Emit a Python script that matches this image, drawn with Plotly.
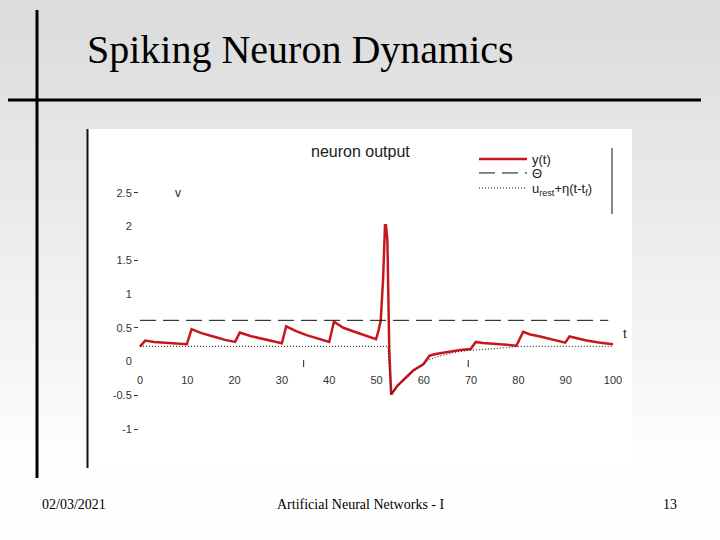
import plotly.graph_objects as go

# ---- data ----
t_vals = [0, 1.1, 3, 5, 7.5, 9.9, 10.9, 13, 15.5, 18, 20.1, 21.1, 23.5, 26.1, 28, 30,
          30.9, 33, 35.2, 37.5, 40, 41, 43, 45.8, 48, 49.9, 50.4, 50.9, 51.4, 51.8, 52.0,
          52.3, 52.7, 53.1, 54.4, 56, 57.8, 59.9, 61.2, 62.5, 64.1, 66, 67.7, 69.9, 71.0,
          72.5, 74.7, 77, 79.6, 81.0, 82.5, 84.6, 87, 89.9, 90.8, 92.5, 94.4, 97, 100]
y_vals = [0.22, 0.31, 0.29, 0.28, 0.265, 0.255, 0.48, 0.42, 0.37, 0.32, 0.29, 0.43, 0.375,
          0.33, 0.30, 0.27, 0.52, 0.45, 0.39, 0.34, 0.29, 0.59, 0.50, 0.43, 0.37, 0.33, 0.45,
          0.61, 1.23, 2.02, 2.02, 1.8, 0.17, -0.49, -0.36, -0.25, -0.13, -0.04, 0.086, 0.11,
          0.13, 0.15, 0.17, 0.185, 0.29, 0.275, 0.26, 0.25, 0.235, 0.44, 0.40, 0.37, 0.33,
          0.28, 0.37, 0.34, 0.31, 0.28, 0.255]

theta_t = [0, 99]
theta_y = [0.61, 0.61]

eta_t = [0, 52.4, 52.6, 53.1, 54.4, 56, 58, 60, 61, 62.7, 64.8, 66.9, 69, 71.2, 73.3,
         75.5, 77.5, 79.6, 81.5, 100]
eta_y = [0.225, 0.225, 0.0, -0.49, -0.37, -0.26, -0.14, -0.03, 0.02, 0.07, 0.11, 0.14,
         0.16, 0.17, 0.185, 0.195, 0.205, 0.22, 0.225, 0.225]

mark_t = [34.6, 69.4]
mark_y = [-0.03, -0.03]

x_ticks = [0, 10, 20, 30, 40, 50, 60, 70, 80, 90, 100]
y_ticks = [2.5, 2, 1.5, 1, 0.5, 0, -0.5, -1]
y_tick_text = ["2.5", "2", "1.5", "1", "0.5", "0", "-0.5", "-1"]
y_dash_ticks = [2.5, 1.5, 0.5, -0.5, -1]

W, H = 720, 540
def px(x): return x / W
def py(y): return 1 - y / H

fig = go.Figure()
fig.add_trace(go.Scatter(x=t_vals, y=y_vals, mode="lines", name="y(t)", legend="legend",
                         line=dict(color="#c8161e", width=2.5)))
fig.add_trace(go.Scatter(x=theta_t, y=theta_y, mode="lines", name="Θ", legend="legend2",
                         line=dict(color="#111111", width=1, dash="16px,7px")))
fig.add_trace(go.Scatter(x=eta_t, y=eta_y, mode="lines", legend="legend3",
                         name="u<sub>rest</sub>+η(t-t<sub>f</sub>)",
                         line=dict(color="#111111", width=1, dash="1px,2px")))
fig.add_trace(go.Scatter(x=mark_t, y=mark_y, mode="markers", showlegend=False,
                         yaxis="y2", hoverinfo="skip",
                         marker=dict(symbol="line-ns", size=5,
                                     line=dict(color="#222222", width=1))))

# background gradient of slide
shapes = []
band = 20
for i in range(0, H, band):
    c = int(round(220 + min(i, 460) / 460 * 34))
    shapes.append(dict(type="rect", xref="paper", yref="paper", layer="below",
                       x0=0, x1=1, y0=py(i + band), y1=py(i),
                       fillcolor=f"rgb({c},{c},{c})", line=dict(width=0)))
# white chart image area
shapes.append(dict(type="rect", xref="paper", yref="paper", layer="below",
                   x0=px(88), x1=px(632), y0=py(470), y1=py(129),
                   fillcolor="white", line=dict(width=0)))
# left dark edge of the chart image
shapes.append(dict(type="line", xref="paper", yref="paper", layer="above",
                   x0=px(87.5), x1=px(87.5), y0=py(468), y1=py(129),
                   line=dict(color="#111111", width=2)))
# slide decorative lines
shapes.append(dict(type="line", xref="paper", yref="paper",
                   x0=px(37), x1=px(37), y0=py(478), y1=py(10),
                   line=dict(color="black", width=3)))
shapes.append(dict(type="line", xref="paper", yref="paper",
                   x0=px(8), x1=px(701), y0=py(100), y1=py(100),
                   line=dict(color="black", width=3)))
# legend right bar
shapes.append(dict(type="line", xref="paper", yref="paper",
                   x0=px(612), x1=px(612), y0=py(214), y1=py(148),
                   line=dict(color="#111111", width=1)))

annotations = [
    dict(text="Spiking Neuron Dynamics", xref="paper", yref="paper",
         x=px(85), y=py(49), xanchor="left", yanchor="middle", showarrow=False,
         font=dict(family="Liberation Serif", size=40, color="black")),
    dict(text="neuron output", xref="paper", yref="paper",
         x=px(360), y=py(152), xanchor="center", yanchor="middle", showarrow=False,
         font=dict(family="Liberation Sans", size=16, color="#1a1a1a")),
    dict(text="v", xref="x", yref="y", x=8, y=2.5, showarrow=False,
         xanchor="center", yanchor="middle",
         font=dict(family="Liberation Sans", size=12, color="#222222")),
    dict(text="t", xref="x", yref="y", x=102.5, y=0.42, showarrow=False,
         xanchor="center", yanchor="middle",
         font=dict(family="Liberation Sans", size=13, color="#222222")),
    dict(text="02/03/2021", xref="paper", yref="paper",
         x=px(74), y=py(504), xanchor="center", yanchor="middle", showarrow=False,
         font=dict(family="Liberation Serif", size=14, color="black")),
    dict(text="Artificial Neural Networks - I", xref="paper", yref="paper",
         x=px(360), y=py(504), xanchor="center", yanchor="middle", showarrow=False,
         font=dict(family="Liberation Serif", size=14, color="black")),
    dict(text="13", xref="paper", yref="paper",
         x=px(670), y=py(504), xanchor="center", yanchor="middle", showarrow=False,
         font=dict(family="Liberation Serif", size=14, color="black")),
]

# axis geometry: x=0 at px 140, 4.73 px/unit ; y=0 at px 361.5, 67.5 px/unit
xd0, xd1 = 130, 630
yd0, yd1 = 135, 465
x_range = [(xd0 - 140) / 4.73, (xd1 - 140) / 4.73]
y_range = [(361.5 - yd1) / 67.5, (361.5 - yd0) / 67.5]

tickfont = dict(family="Liberation Sans", size=11, color="#333333")
legfont = dict(family="Liberation Sans", size=13, color="#222222")

def leg(ycenter):
    return dict(x=px(474), y=py(ycenter), xanchor="left", yanchor="middle",
                bgcolor="rgba(0,0,0,0)", itemwidth=48, font=legfont)

fig.update_layout(
    width=W, height=H,
    margin=dict(l=0, r=0, t=0, b=0),
    paper_bgcolor="white",
    plot_bgcolor="rgba(0,0,0,0)",
    showlegend=True,
    legend=leg(159),
    legend2=leg(173),
    legend3=leg(188),
    xaxis=dict(domain=[px(xd0), px(xd1)], range=x_range, anchor="free",
               position=py(372), showgrid=False, zeroline=False, showline=False,
               tickvals=x_ticks, ticks="", tickfont=tickfont),
    yaxis=dict(domain=[py(yd1), py(yd0)], range=y_range, anchor="free",
               position=px(138), showgrid=False, zeroline=False, showline=False,
               tickvals=y_ticks, ticktext=y_tick_text, ticks="outside", ticklen=4,
               tickcolor="rgba(0,0,0,0)", tickfont=tickfont),
    yaxis2=dict(overlaying="y", range=y_range, anchor="free", position=px(138),
                showgrid=False, zeroline=False, showline=False,
                tickvals=y_dash_ticks, ticks="outside", ticklen=4, tickwidth=1,
                tickcolor="#333333", showticklabels=False),
    shapes=shapes,
    annotations=annotations,
)

fig.write_html("out.html", config={"displayModeBar": False},
               post_script="document.body.style.margin='0px';document.body.style.padding='0px';")
